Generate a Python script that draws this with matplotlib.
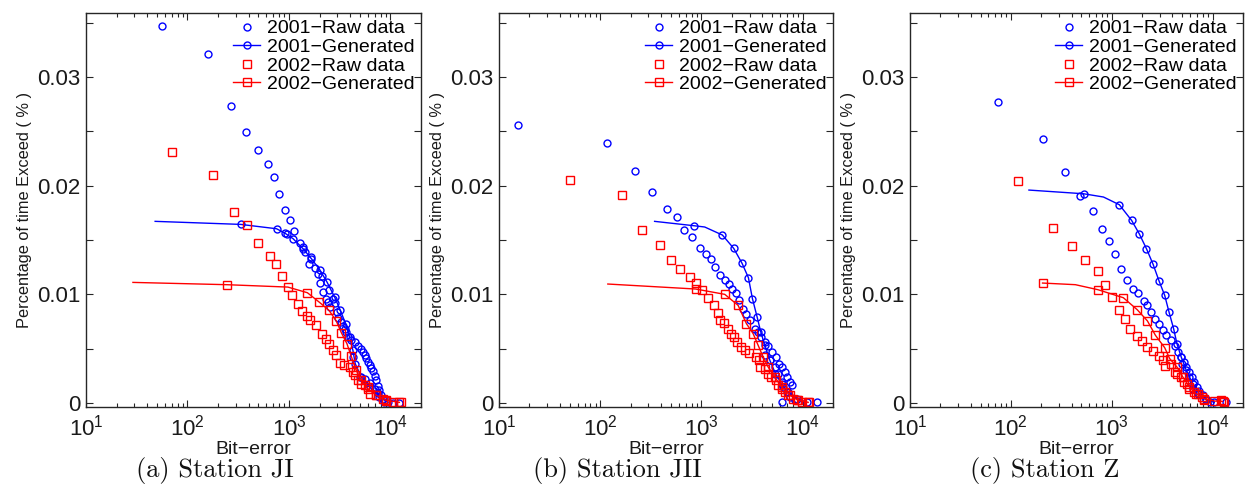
import matplotlib
matplotlib.use("Agg")
import matplotlib.pyplot as plt
from matplotlib.ticker import FixedLocator, NullFormatter, LogLocator

plt.rcParams['font.family'] = ['Liberation Sans', 'DejaVu Sans']
plt.rcParams['mathtext.default'] = 'regular'

# ---------------- Panel (a) Station JI ----------------
a_raw01_x = [56, 161, 266, 374, 491, 615, 705, 794, 910, 1019, 1132, 967, 1277, 1377, 1431,
             1664, 1577, 1795, 1933, 2132, 2009, 2477, 2167, 2301, 2716, 2427, 2818, 2557,
             2972, 3041, 3281, 3404, 3533, 3672, 3811, 4111, 4426, 4266, 4775, 5152, 5346,
             5559, 5768, 5984, 6223, 6457, 6714, 6966, 7228, 7516, 7798, 8091, 8414, 8730,
             4966, 5559, 6223, 6966, 7516, 10540, 12250]
a_raw01_y = [0.0347, 0.0321, 0.0273, 0.0249, 0.0233, 0.0220, 0.0208, 0.0192, 0.0178, 0.0168,
             0.0158, 0.0156, 0.0147, 0.0144, 0.0139, 0.0134, 0.0128, 0.0124, 0.0119, 0.0117,
             0.0110, 0.0104, 0.0102, 0.0096, 0.0096, 0.0093, 0.0092, 0.0088, 0.0084, 0.0078,
             0.0075, 0.0071, 0.0068, 0.0065, 0.0061, 0.0058, 0.0056, 0.0042, 0.0052, 0.0050,
             0.0047, 0.0044, 0.0041, 0.0038, 0.0035, 0.0032, 0.0029, 0.0025, 0.0021, 0.0016,
             0.0012, 0.0007, 0.0004, 0.0001, 0.0024, 0.0022, 0.0018, 0.0013, 0.0009,
             0.0000, 0.0000]
a_gen01_x = [48, 334, 754, 910, 1099, 1377, 1664, 2009, 2371, 2818, 3206, 3614, 3954, 4266,
             4497, 5152, 6223, 7798, 9419]
a_gen01_y = [0.01672, 0.01644, 0.01604, 0.01564, 0.01512, 0.0142, 0.01328, 0.01227, 0.01113,
             0.00975, 0.00853, 0.0073, 0.00607, 0.00485, 0.00362, 0.00239, 0.00147, 0.00055,
             0.00006]
a_raw02_x = [70, 180, 285, 383, 498, 648, 743, 857, 1082, 1230, 1346, 1519, 1602, 1862, 2117,
             2335, 2479, 2716, 2926, 3155, 3455, 3954, 4266, 4426, 4775, 5152, 5559, 5984,
             6223, 7228, 8414, 9060, 10540, 12730]
a_raw02_y = [0.0231, 0.02095, 0.0176, 0.01635, 0.01475, 0.01353, 0.01276, 0.01169, 0.00991,
             0.00914, 0.00844, 0.00798, 0.00761, 0.00715, 0.00632, 0.00592, 0.00546, 0.00491,
             0.00439, 0.00368, 0.00347, 0.00331, 0.00285, 0.00255, 0.00209, 0.00178, 0.00163,
             0.00147, 0.00086, 0.00071, 0.0004, 0.00018, 0.0001, 0.0001]
a_gen02_x = [29, 243, 975, 1519, 1977, 2479, 2926, 3281, 3726, 4111, 4603, 5152, 5984, 7228,
             9060, 12250]
a_gen02_y = [0.0111, 0.01089, 0.01067, 0.01015, 0.0093, 0.00853, 0.00755, 0.00647, 0.00546,
             0.00429, 0.00301, 0.00209, 0.00132, 0.00071, 0.00025, 0.00006]

# ---------------- Panel (b) Station JII ----------------
b_raw01_x = [15.3, 116, 222, 322, 461, 570, 674, 815, 962, 1122, 1237, 1376, 1543, 1703, 1879,
             2028, 2222, 2361, 2586, 2790, 3013, 3375, 3640, 3928, 4238, 4571, 5047, 5445,
             5875, 6197, 6686, 6950, 7499, 7785, 4238, 4750, 5322, 5743, 6197, 6442, 6950,
             7499, 6197, 8395, 13760]
b_raw01_y = [0.02558, 0.02393, 0.02135, 0.01939, 0.01785, 0.01712, 0.01589, 0.01528, 0.01426,
             0.01374, 0.01328, 0.01252, 0.01175, 0.01129, 0.01098, 0.01052, 0.01012, 0.00945,
             0.00868, 0.00822, 0.00761, 0.00684, 0.00653, 0.00607, 0.00561, 0.00521, 0.00469,
             0.00423, 0.00362, 0.00331, 0.00285, 0.00239, 0.00193, 0.00163, 0.00439, 0.00393,
             0.00331, 0.0027, 0.00193, 0.00147, 0.00101, 0.00055, 0.0001, 0.00025, 0.0001]
b_gen01_x = [345, 840, 1079, 1614, 2089, 2527, 2918, 3198, 3558, 3868, 4234, 4750, 5404, 6200,
             7211, 8724, 10970]
b_gen01_y = [0.01672, 0.01632, 0.0162, 0.01546, 0.01423, 0.01285, 0.01153, 0.0096, 0.00791,
             0.00653, 0.00531, 0.00393, 0.0027, 0.00178, 0.00101, 0.0004, 0.00006]
b_raw02_x = [50.5, 164, 261, 387, 505, 620, 778, 892, 1023, 1164, 1325, 1463, 1543, 1664, 1837,
             1982, 2089, 2254, 2489, 2687, 2965, 3451, 3725, 3784, 4238, 4571, 4932, 5445,
             5743, 6197, 6686, 7211, 8090, 8724, 9774, 11640]
b_raw02_y = [0.02055, 0.01917, 0.01595, 0.01451, 0.01319, 0.01236, 0.0116, 0.01104, 0.01043,
             0.00969, 0.00899, 0.00828, 0.00761, 0.00736, 0.00684, 0.00638, 0.00607, 0.00561,
             0.00515, 0.00485, 0.0046, 0.00423, 0.00393, 0.00331, 0.00316, 0.0027, 0.00239,
             0.00209, 0.00163, 0.00132, 0.00101, 0.00071, 0.0004, 0.00025, 0.0001, 0.0001]
b_gen02_x = [119, 879, 1703, 2307, 2790, 3250, 3640, 4082, 4571, 5322, 6197, 7499, 9060, 11380]
b_gen02_y = [0.01095, 0.01049, 0.01, 0.00899, 0.0073, 0.00638, 0.00531, 0.00423, 0.00331,
             0.00239, 0.00147, 0.00071, 0.00025, 0.00006]

# ---------------- Panel (c) Station Z ----------------
c_raw01_x = [74, 208, 345, 481, 646, 797, 949, 1079, 1236, 1426, 1634, 1829, 2094, 2259, 2438,
             2668, 2944, 3222, 3475, 3837, 4198, 4529, 4883, 5188, 5474, 5894, 6214, 6600,
             7011, 7396, 7980, 8600, 9480, 4955, 5770, 6360, 7117, 13520]
c_raw01_y = [0.02773, 0.02426, 0.02129, 0.01905, 0.01764, 0.01604, 0.01488, 0.01368, 0.01236,
             0.01135, 0.01052, 0.01012, 0.00936, 0.00899, 0.00837, 0.00776, 0.00724, 0.00675,
             0.00623, 0.00577, 0.00521, 0.00469, 0.00423, 0.00377, 0.00331, 0.00285, 0.00239,
             0.00193, 0.00147, 0.0011, 0.00071, 0.0004, 0.0001, 0.00362, 0.00239, 0.00132,
             0.00086, 0.0001]
c_gen01_x = [151, 526, 828, 1189, 1573, 1872, 2209, 2570, 2944, 3348, 3695, 4104, 4427, 4883,
             5474, 6360, 7396, 8600, 10380]
c_gen01_y = [0.0196, 0.01926, 0.01896, 0.01825, 0.01681, 0.01558, 0.0142, 0.01276, 0.01123,
             0.00991, 0.00837, 0.00684, 0.00546, 0.00423, 0.00301, 0.00178, 0.00086, 0.00031,
             0.00006]
c_raw02_x = [118, 261, 404, 547, 723, 860, 1000, 1180, 1352, 1514, 1762, 2003, 2259, 2570, 2924,
             3222, 3399, 3890, 4198, 4458, 4883, 5188, 5598, 5894, 6500, 7117, 7798, 8279,
             12080, 13030]
c_raw02_y = [0.02043, 0.0161, 0.01445, 0.01313, 0.01215, 0.01089, 0.00975, 0.00853, 0.0077,
             0.00678, 0.00613, 0.00571, 0.00515, 0.00475, 0.00429, 0.00393, 0.00337, 0.00356,
             0.00285, 0.0027, 0.00239, 0.00193, 0.00178, 0.00132, 0.00101, 0.00086, 0.00055,
             0.00031, 0.00025, 0.0001]
c_gen02_x = [206, 436, 728, 1303, 1787, 2259, 2710, 3348, 3753, 4427, 5070, 5894, 6855, 8279,
             10380, 12530]
c_gen02_y = [0.01104, 0.01089, 0.01043, 0.00969, 0.00859, 0.00755, 0.00623, 0.00509, 0.00408,
             0.00331, 0.00239, 0.00147, 0.00086, 0.0004, 0.00018, 0.00015]

legend_labels = ['2001\u2212Raw data', '2001\u2212Generated', '2002\u2212Raw data', '2002\u2212Generated']
captions = ['(a) Station JI', '(b) Station JII', '(c) Station Z']
y_ticks = [0, 0.01, 0.02, 0.03]
y_tick_labels = ['0', '0.01', '0.02', '0.03']

panels = [
    (a_raw01_x, a_raw01_y, a_gen01_x, a_gen01_y, a_raw02_x, a_raw02_y, a_gen02_x, a_gen02_y,
     list(range(1, len(a_gen01_x))), list(range(1, len(a_gen02_x)))),
    (b_raw01_x, b_raw01_y, b_gen01_x, b_gen01_y, b_raw02_x, b_raw02_y, b_gen02_x, b_gen02_y,
     [1] + list(range(3, len(b_gen01_x))), list(range(1, len(b_gen02_x)))),
    (c_raw01_x, c_raw01_y, c_gen01_x, c_gen01_y, c_raw02_x, c_raw02_y, c_gen02_x, c_gen02_y,
     [1] + list(range(3, len(c_gen01_x))), [0] + list(range(2, len(c_gen02_x)))),
]

fig = plt.figure(figsize=(12.5, 5.04), dpi=100)
lefts = [86, 499, 910]
widths = [335, 334, 333]
cap_x = [215, 617, 1045]
bottom = 1 - 407 / 504
height = (407 - 13) / 504

blue = (0, 0, 1)
red = (1, 0, 0)
frame_col = '#262626'

for i, p in enumerate(panels):
    rx1, ry1, gx1, gy1, rx2, ry2, gx2, gy2, me1, me2 = p
    ax = fig.add_axes([lefts[i] / 1250, bottom, widths[i] / 1250, height])
    ax.plot(rx1, ry1, linestyle='none', marker='o', ms=5, mfc='none', mec=blue, mew=1.0,
            label=legend_labels[0])
    ax.plot(gx1, gy1, linestyle='-', color=blue, lw=1.0, marker='o', ms=5, mfc='none',
            mec=blue, mew=1.0, markevery=me1, label=legend_labels[1])
    ax.plot(rx2, ry2, linestyle='none', marker='s', ms=5.5, mfc='none', mec=red, mew=1.0,
            label=legend_labels[2])
    ax.plot(gx2, gy2, linestyle='-', color=red, lw=1.0, marker='s', ms=5.5, mfc='none',
            mec=red, mew=1.0, markevery=me2, label=legend_labels[3])
    ax.set_xscale('log')
    ax.set_xlim(10, 2e4)
    ax.set_ylim(-0.00037, 0.0359)
    ax.xaxis.set_major_locator(FixedLocator([10, 100, 1000, 10000]))
    ax.xaxis.set_minor_locator(LogLocator(base=10, subs=range(2, 10)))
    ax.xaxis.set_minor_formatter(NullFormatter())
    ax.set_yticks(y_ticks)
    ax.set_yticklabels(y_tick_labels)
    ax.yaxis.set_minor_locator(FixedLocator([0.005, 0.015, 0.025, 0.035]))
    ax.tick_params(which='both', direction='in', top=True, right=True, colors=frame_col,
                   labelcolor='#1a1a1a', width=0.8)
    ax.tick_params(which='major', length=5, labelsize=16, pad=4)
    ax.tick_params(axis='x', which='major', pad=5.5)
    ax.tick_params(axis='y', which='minor', length=5)
    ax.tick_params(axis='x', which='minor', length=3)
    for s in ax.spines.values():
        s.set_color(frame_col)
        s.set_linewidth(1.0)
    ax.set_xlabel('Bit\u2212error', fontsize=14, labelpad=0, color='#1a1a1a')
    ax.set_ylabel('Percentage of time Exceed ( % )', fontsize=11.8, labelpad=3.5, color='#1a1a1a')
    ax.legend(loc='upper right', frameon=False, fontsize=14, borderaxespad=0.25,
              handlelength=1.4, handletextpad=0.33, labelspacing=0.05, borderpad=0.1)
    fig.text(cap_x[i] / 1250, 1 - 470 / 504, captions[i], ha='center', va='center',
             fontsize=19, family='cmr10', color='#111111')

fig.savefig('out.png', dpi=100)
